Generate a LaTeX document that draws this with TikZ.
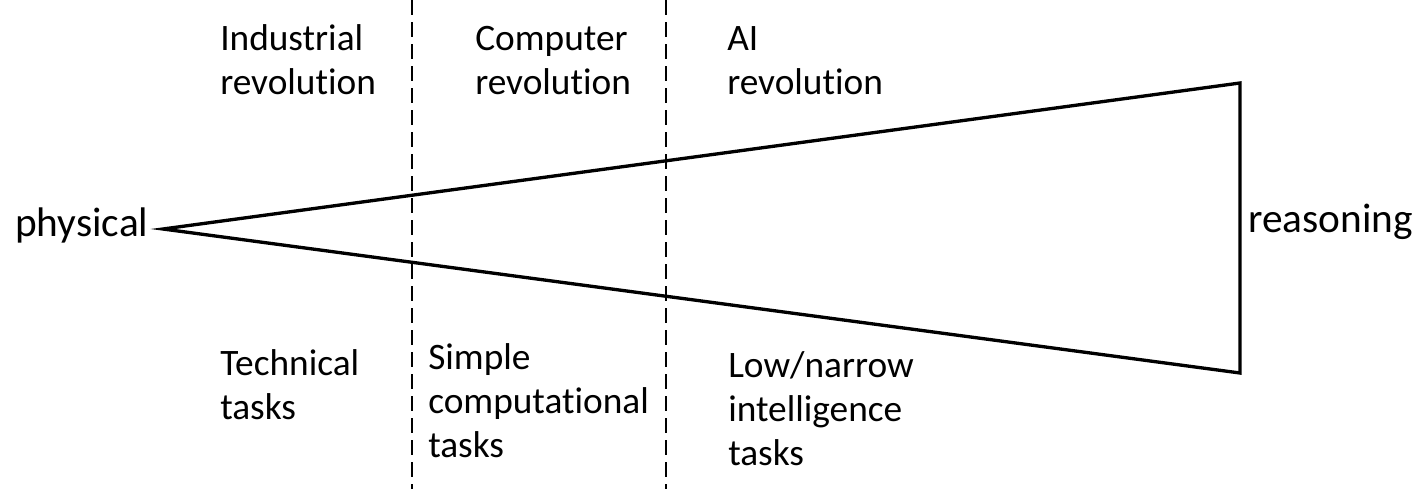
\documentclass[tikz,border=0pt]{standalone}
\usepackage{fontspec}
\setmainfont{Carlito}[Ligatures=NoCommon]
\usetikzlibrary{positioning}

\begin{document}
\begin{tikzpicture}[%
    x=0.75pt,
    y=-0.75pt,
    era/.style={anchor=base west, inner sep=0pt, align=left, font=\fontsize{28}{33}\selectfont},
    pole/.style={anchor=base west, inner sep=0pt, font=\fontsize{31}{37}\selectfont},
    divider/.style={dash pattern=on 11.25pt off 5.25pt, line width=1.2pt},
    wedge/.style={line width=2.5pt, line join=miter}
    ]

    \useasboundingbox (0,0) rectangle (1427,489);

    \coordinate (apex) at (163,229);
    \coordinate (upper) at (1240,83);
    \coordinate (lower) at (1240,373);

    \coordinate (d1top) at (412,0);
    \coordinate (d1bot) at (412,489);
    \coordinate (d2top) at (666,0);
    \coordinate (d2bot) at (666,489);

    \node[pole] (physical) at (15,236) {physical};
    \node[pole] (reasoning) at (1248,232) {reasoning};

    % base anchor sits on the last line
    \node[era] (industrial) at (220,94) {Industrial\\revolution};
    \node[era] (computer) at (475,94) {Computer\\revolution};
    \node[era] (ai) at (727,94) {AI\\revolution};

    \node[era] (technical) at (220,419) {Technical\\tasks};
    \node[era] (simple) at (428,457) {Simple\\computational\\tasks};
    \node[era] (lownarrow) at (728,465) {Low/narrow\\intelligence\\tasks};

    \draw[divider] (d1top) -- (d1bot);
    \draw[divider] (d2top) -- (d2bot);

    \draw[wedge] (upper) -- (apex) -- (lower) -- cycle;

\end{tikzpicture}
\end{document}
